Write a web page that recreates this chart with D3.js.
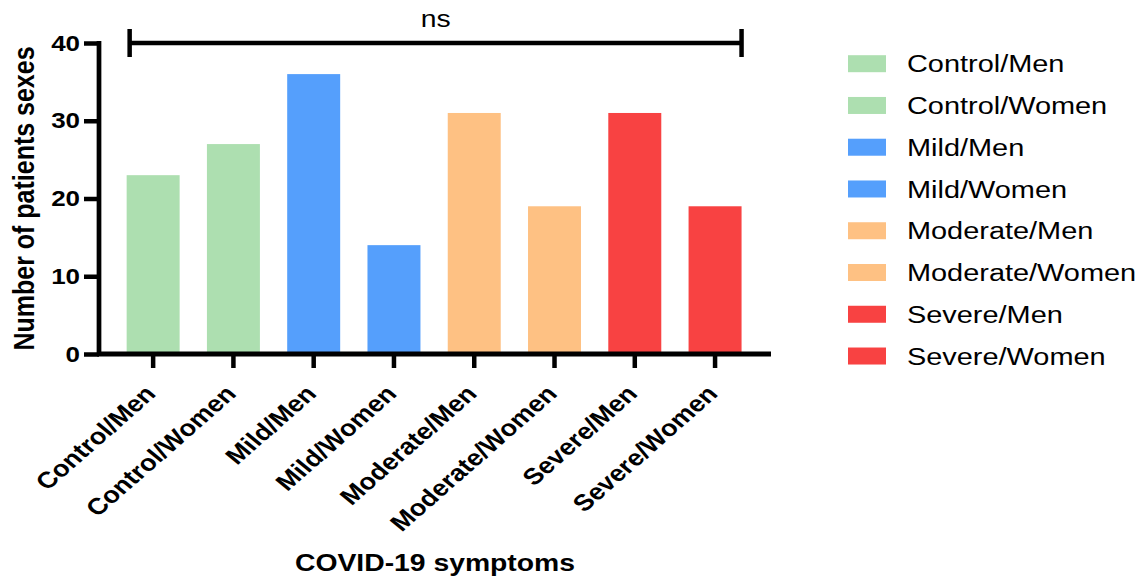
<!DOCTYPE html>
<html><head><meta charset="utf-8">
<script src="https://cdn.jsdelivr.net/npm/d3@7"></script>
<style>body{margin:0;background:#fff}svg{display:block}text{font-family:"Liberation Sans",Arial,sans-serif}</style>
</head><body><svg id="c" width="1142" height="578"></svg>
<script>
const categories = ["Control/Men","Control/Women","Mild/Men","Mild/Women","Moderate/Men","Moderate/Women","Severe/Men","Severe/Women"];
const values = [23, 27, 36, 14, 31, 19, 31, 19];
const colors = ["#ADDFB0","#ADDFB0","#559FFC","#559FFC","#FEC183","#FEC183","#F84242","#F84242"];
const yTicks = [0, 10, 20, 30, 40];
const yTitle = "Number of patients sexes";
const xTitle = "COVID-19 symptoms";
const sigLabel = "ns";

const SX = 1.18; // horizontal stretch of the original picture
const svg = d3.select("#c");
const g = svg.append("g").attr("transform", `scale(${SX},1)`);
const X = px => px / SX;

const x = d3.scaleBand().domain(categories).range([X(113), X(755.2)]).paddingInner(0.34).paddingOuter(0.17);
const y = d3.scaleLinear().domain([0, 40]).range([354, 43]);

// bars
g.selectAll("rect.bar").data(categories).join("rect")
  .attr("class","bar")
  .attr("x", d => x(d)).attr("width", x.bandwidth())
  .attr("y", (d,i) => y(values[i])).attr("height", (d,i) => y(0) - y(values[i]))
  .attr("fill", (d,i) => colors[i]);

// y axis
const ya = g.append("g").attr("transform", `translate(${X(99)},0)`)
  .call(d3.axisLeft(y).tickValues(yTicks).tickSize(X(15)).tickPadding(X(4)));
ya.select(".domain").remove();
ya.selectAll(".tick line").attr("stroke","#000").attr("stroke-width",4.5);
ya.selectAll(".tick text").attr("font-size",22).attr("font-weight","bold").attr("fill","#000")
  .attr("font-family","'Liberation Sans',Arial,sans-serif");
g.append("line").attr("x1", X(99)).attr("x2", X(99)).attr("y1", y(40)-2).attr("y2", y(0)+2)
  .attr("stroke","#000").attr("stroke-width", 4.5/SX*1.05);

// x axis
const xa = g.append("g").attr("transform", `translate(0,${y(0)})`)
  .call(d3.axisBottom(x).tickSize(14).tickFormat(""));
xa.select(".domain").remove();
xa.selectAll(".tick line").attr("stroke","#000").attr("stroke-width",4.5/SX);
g.append("line").attr("x1", X(97)).attr("x2", X(771)).attr("y1", y(0)).attr("y2", y(0))
  .attr("stroke","#000").attr("stroke-width",5);

// x tick labels
g.selectAll("text.xl").data(categories).join("text")
  .attr("class","xl")
  .attr("transform", d => `translate(${x(d)+x.bandwidth()/2+X(4)},${395}) rotate(-46)`)
  .attr("text-anchor","end").attr("font-size",23).attr("font-weight","bold").attr("fill","#000")
  .text(d => d);

// axis titles
g.append("text").attr("transform", `translate(${X(34)},${(y(0)+y(40))/2}) rotate(-90)`)
  .attr("text-anchor","middle").attr("font-size",25).attr("font-weight","bold").text(yTitle);
g.append("text").attr("x", X(435)).attr("y", 571).attr("text-anchor","middle")
  .attr("font-size",24).attr("font-weight","bold").text(xTitle);

// significance bracket
const bx1 = x(categories[0]) + X(3), bx2 = x(categories[categories.length-1]) + x.bandwidth();
const by = y(40);
g.append("line").attr("x1",bx1).attr("x2",bx2).attr("y1",by).attr("y2",by).attr("stroke","#000").attr("stroke-width",4.5);
[bx1,bx2].forEach(bx => g.append("line").attr("x1",bx).attr("x2",bx).attr("y1",by-14).attr("y2",by+14)
  .attr("stroke","#000").attr("stroke-width",4.5/SX));
g.append("text").attr("x",(bx1+bx2)/2).attr("y",27).attr("text-anchor","middle").attr("font-size",24).text(sigLabel);

// legend
const leg = g.selectAll("g.leg").data(categories).join("g").attr("class","leg")
  .attr("transform", (d,i) => `translate(${X(848)},${63.7 + i*41.76})`);
leg.append("rect").attr("x",0).attr("y",-8.5).attr("width",X(38)).attr("height",17).attr("fill",(d,i)=>colors[i]);
leg.append("text").attr("x",X(59)).attr("y",0).attr("dy","0.35em").attr("font-size",24.5).attr("fill","#000").text(d=>d);
</script></body></html>
